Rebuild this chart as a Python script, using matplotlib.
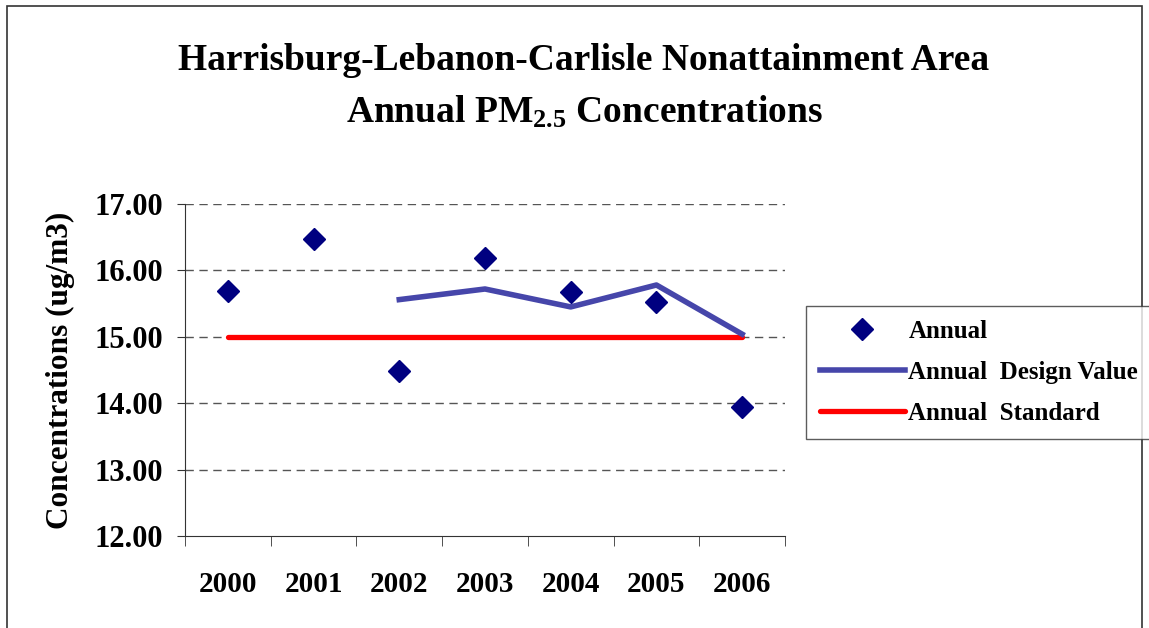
import matplotlib
matplotlib.use("Agg")
import matplotlib.pyplot as plt
from matplotlib.patches import Rectangle
import numpy as np

years = ["2000", "2001", "2002", "2003", "2004", "2005", "2006"]
annual = [15.69, 16.47, 14.49, 16.18, 15.67, 15.52, 13.94]
design_years = ["2002", "2003", "2004", "2005", "2006"]
design_value = [15.56, 15.72, 15.45, 15.78, 15.04]
standard = [15.0, 15.0, 15.0, 15.0, 15.0, 15.0, 15.0]
yticks = [12.0, 13.0, 14.0, 15.0, 16.0, 17.0]

plt.rcParams['font.family'] = ['Liberation Serif', 'DejaVu Serif']
plt.rcParams['font.weight'] = 'bold'
plt.rcParams['mathtext.fontset'] = 'custom'
plt.rcParams['mathtext.rm'] = 'Liberation Serif:bold'
plt.rcParams['mathtext.bf'] = 'Liberation Serif:bold'
plt.rcParams['mathtext.it'] = 'Liberation Serif:bold'

fig = plt.figure(figsize=(11.49, 6.28), dpi=100)
fig.patches.append(Rectangle((7/1149, -0.01), (1142-7)/1149, 1 - 6/628 + 0.01,
                             transform=fig.transFigure, fill=False,
                             edgecolor='#333333', linewidth=1.2))

ax = fig.add_axes([185/1149, 92/628, 600/1149, 332/628])
x = np.arange(len(years))
xd = np.array([years.index(y) for y in design_years])

for t in yticks[1:]:
    ax.axhline(t, color='#555555', linewidth=1.0, linestyle=(0, (6, 4)), zorder=1)

ax.plot(x, standard, color='#ff0000', linewidth=3.8, solid_capstyle='round',
        label='Annual  Standard', zorder=2)
ax.plot(xd, design_value, color='#4646aa', linewidth=4.0,
        label='Annual  Design Value', zorder=3)
ax.plot(x, annual, linestyle='none', marker='D', markersize=11,
        color='#000080', label='Annual', zorder=4)

ax.set_xlim(-0.5, len(years) - 0.5)
ax.set_ylim(12, 17)
ax.set_yticks(yticks)
ax.set_yticklabels([f"{v:.2f}" for v in yticks], fontsize=22, fontweight='bold')
ax.set_xticks(x)
ax.set_xticklabels(years, fontsize=21, fontweight='bold')
ax.set_xticks(np.arange(-0.5, len(years)), minor=True)
ax.tick_params(axis='x', which='major', length=0, pad=25)
ax.tick_params(axis='x', which='minor', length=7, color='#333333')
ax.tick_params(axis='y', length=6, pad=10, color='#333333')
for s in ['top', 'right']:
    ax.spines[s].set_visible(False)
for s in ['left', 'bottom']:
    ax.spines[s].set_color('#333333')
ax.set_ylabel("Concentrations (ug/m3)", fontsize=22.5, fontweight='bold', labelpad=14)

fig.text(584/1149, 1 - 61/628, "Harrisburg-Lebanon-Carlisle Nonattainment Area",
         ha='center', va='center', fontsize=27, fontweight='bold')
fig.text(584/1149, 1 - 112/628, r"Annual PM$_{\mathbf{2.5}}$ Concentrations",
         ha='center', va='center', fontsize=27, fontweight='bold')

h, l = ax.get_legend_handles_labels()
order = [2, 1, 0]
leg = fig.legend([h[i] for i in order], [l[i] for i in order],
                 loc='upper left', bbox_to_anchor=(806/1149, 1 - 306/628),
                 fontsize=18, frameon=True, fancybox=False, edgecolor='#333333',
                 handlelength=3.4, handletextpad=0.15, borderpad=0.55,
                 labelspacing=0.72, borderaxespad=0)
leg.get_frame().set_linewidth(1.0)

fig.savefig("out.png", dpi=100)
